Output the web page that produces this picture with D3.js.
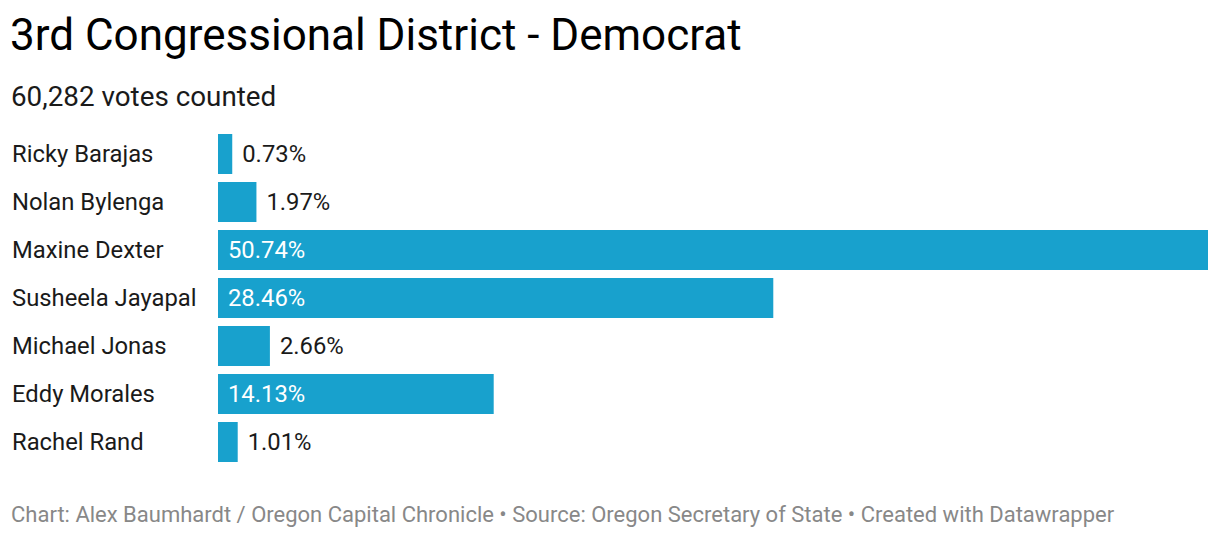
<!DOCTYPE html>
<html>
<head>
<meta charset="utf-8">
<script src="https://cdn.jsdelivr.net/npm/d3@7"></script>
<style>
  body { margin: 0; background: #fff; }
  svg text { font-family: Roboto, "Noto Sans", sans-serif; }
</style>
</head>
<body>
<div id="chart"></div>
<script>
//== DATA ================================================//
var candidates = ["Ricky Barajas", "Nolan Bylenga", "Maxine Dexter", "Susheela Jayapal",
    "Michael Jonas", "Eddy Morales", "Rachel Rand"];
var shares = [0.73, 1.97, 50.74, 28.46, 2.66, 14.13, 1.01];

var title = "3rd Congressional District - Democrat";
var subtitle = "60,282 votes counted";
var footer = "Chart: Alex Baumhardt / Oregon Capital Chronicle \u2022 Source: Oregon Secretary of State \u2022 Created with Datawrapper";

//== PLOT ================================================//
var width = 1220,
    height = 538;
var barColor = "#18a1cd";

var svg = d3.select("#chart")
    .append("svg")
    .attr("width", width)
    .attr("height", height);

svg.append("text")
    .attr("x", 10)
    .attr("y", 50)
    .attr("font-size", 44)
    .attr("fill", "#000")
    .text(title);

svg.append("text")
    .attr("x", 11)
    .attr("y", 106)
    .attr("font-size", 27.8)
    .attr("fill", "#1a1a1a")
    .text(subtitle);

var data = candidates.map(function (c, i) {
    return { name: c, value: shares[i] };
});

// bars: x scale from 0 to the max share
var x = d3.scaleLinear()
    .domain([0, d3.max(shares)])
    .range([218, 1208]);

var y = d3.scaleBand()
    .domain(candidates)
    .range([130, 466])
    .paddingInner(8 / 48)
    .paddingOuter(4 / 48);

var rows = svg.append("g").selectAll("g")
    .data(data)
    .enter().append("g");

rows.append("text")
    .attr("x", 12)
    .attr("y", function (d) { return y(d.name) + y.bandwidth() / 2; })
    .attr("dy", "0.35em")
    .attr("font-size", 23.8)
    .attr("fill", "#1a1a1a")
    .text(function (d) { return d.name; });

rows.append("rect")
    .attr("x", x(0))
    .attr("y", function (d) { return y(d.name); })
    .attr("width", function (d) { return x(d.value) - x(0); })
    .attr("height", y.bandwidth())
    .attr("fill", barColor);

// labels go inside the bar when it is wide enough
rows.append("text")
    .attr("x", function (d) {
        return d.value > 10 ? x(0) + 10 : x(d.value) + 10;
    })
    .attr("y", function (d) { return y(d.name) + y.bandwidth() / 2; })
    .attr("dy", "0.35em")
    .attr("font-size", 23.8)
    .attr("fill", function (d) { return d.value > 10 ? "#fff" : "#1a1a1a"; })
    .text(function (d) { return d.value.toFixed(2) + "%"; });

svg.append("text")
    .attr("x", 11)
    .attr("y", 522)
    .attr("font-size", 22)
    .attr("fill", "#888")
    .text(footer);
</script>
</body>
</html>
